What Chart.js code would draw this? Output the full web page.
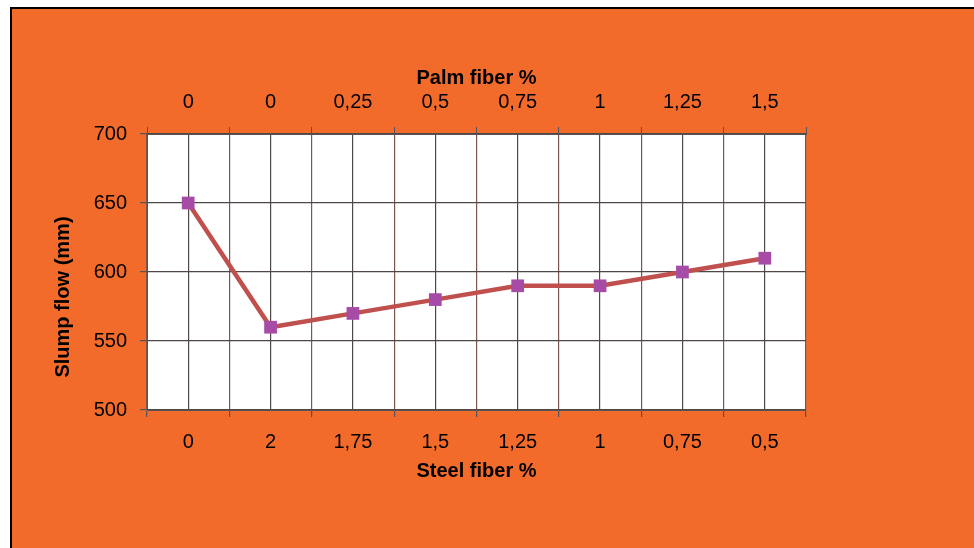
<!DOCTYPE html>
<html>
<head>
<meta charset="utf-8">
<script src="https://cdn.jsdelivr.net/npm/chart.js@4.4.1/dist/chart.umd.min.js"></script>
<style>
    body { margin: 0; background: #fff; }
    #marco {
        position: absolute; left: 10px; top: 7px; right: 0; bottom: 0;
        background: #F26B2B;
        border-left: 2px solid #000;
        border-top: 2px solid #000;
    }
    #grafico { position: absolute; left: 0; top: 0; }
</style>
</head>
<body>
<div id="marco"></div>
<canvas id="grafico" width="974" height="548"></canvas>
<script>
// datos
const steelFiber = ["0", "2", "1,75", "1,5", "1,25", "1", "0,75", "0,5"];
const palmFiber = ["0", "0", "0,25", "0,5", "0,75", "1", "1,25", "1,5"];
const slumpFlow = [650, 560, 570, 580, 590, 590, 600, 610];
const yMin = 500;
const yMax = 700;
const yStep = 50;

const fuente = { family: "'Liberation Sans', Arial, sans-serif", size: 20 };
const fuenteTitulo = { family: "'Liberation Sans', Arial, sans-serif", size: 20, weight: "bold" };

const esCentro = v => Number.isInteger(v);

const fondoBlanco = {
    id: "fondoBlanco",
    beforeDraw(chart) {
        const { ctx, chartArea: a } = chart;
        ctx.save();
        ctx.fillStyle = "#ffffff";
        ctx.fillRect(a.left, a.top, a.right - a.left, a.bottom - a.top);
        ctx.restore();
    }
};

let ctx = document.getElementById("grafico").getContext("2d");
new Chart(ctx, {
    type: "line",
    data: {
        datasets: [{
            data: slumpFlow.map((v, i) => ({ x: i, y: v })),
            borderColor: "#C0504D",
            borderWidth: 4.5,
            tension: 0,
            pointStyle: "rect",
            pointRadius: 9,
            pointBackgroundColor: "#A64CA6",
            pointBorderColor: "#A64CA6",
            pointBorderWidth: 0,
            xAxisID: "x",
            yAxisID: "y"
        }]
    },
    options: {
        responsive: false,
        animation: false,
        layout: { padding: { top: 50, left: 40, right: 168, bottom: 40 } },
        plugins: { legend: { display: false }, tooltip: { enabled: false } },
        scales: {
            x: {
                type: "linear", position: "bottom",
                min: -0.5, max: 7.5,
                afterFit: s => { s.height = 98; },
                ticks: {
                    stepSize: 0.5, autoSkip: false, maxRotation: 0, padding: 13.5,
                    color: "#000", font: fuente,
                    callback: v => esCentro(v) ? steelFiber[v] : ""
                },
                grid: {
                    color: c => esCentro(c.tick.value) ? "#4f4848" : "#7f5550",
                    tickColor: c => esCentro(c.tick.value) ? "rgba(0,0,0,0)" : "#555",
                    tickLength: 7, lineWidth: 1.2
                },
                border: { color: "#555" },
                title: { display: true, text: "Steel fiber %", color: "#000", font: fuenteTitulo, padding: { top: 0, bottom: 24.5 } }
            },
            x2: {
                type: "linear", position: "top",
                min: -0.5, max: 7.5,
                afterFit: s => { s.height = 84; },
                ticks: {
                    stepSize: 0.5, autoSkip: false, maxRotation: 0, padding: 13,
                    color: "#000", font: fuente,
                    callback: v => esCentro(v) ? palmFiber[v] : ""
                },
                grid: {
                    drawOnChartArea: false,
                    tickColor: c => esCentro(c.tick.value) ? "rgba(0,0,0,0)" : "#555",
                    tickLength: 7
                },
                border: { color: "#555" },
                title: { display: true, text: "Palm fiber %", color: "#000", font: fuenteTitulo, padding: { top: 16, bottom: 0 } }
            },
            y: {
                min: yMin, max: yMax,
                afterFit: s => { s.width = 107; },
                ticks: { stepSize: yStep, padding: 13, color: "#000", font: fuente },
                grid: { color: "#4f4646", tickColor: "#555", tickLength: 7, lineWidth: 1.2 },
                border: { color: "#555" },
                // espacios al final para bajar el titulo como en el original
                title: { display: true, text: "Slump flow (mm)         ", color: "#000", font: fuenteTitulo, padding: { top: 11, bottom: 0 } }
            }
        }
    },
    plugins: [fondoBlanco]
});
</script>
</body>
</html>
